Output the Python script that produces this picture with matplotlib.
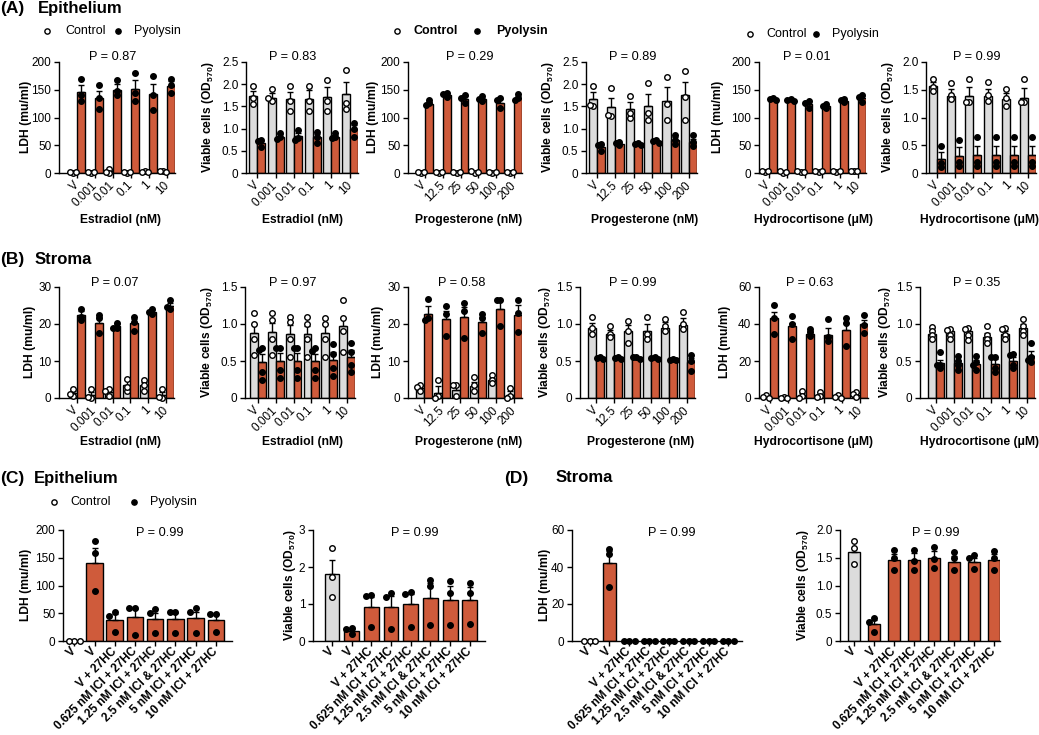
import numpy as np
import matplotlib
matplotlib.use('Agg')
import matplotlib.pyplot as plt
from matplotlib.lines import Line2D

plt.rcParams['font.family'] = ['Liberation Sans', 'DejaVu Sans']
plt.rcParams['mathtext.fontset'] = 'custom'
plt.rcParams['mathtext.rm'] = 'Liberation Sans'
plt.rcParams['mathtext.bf'] = 'Liberation Sans:bold'
plt.rcParams['mathtext.it'] = 'Liberation Sans:italic'

# ---------------- DATA ----------------
E2_LEVELS = ['V', '0.001', '0.01', '0.1', '1', '10']
P4_LEVELS = ['V', '12.5', '25', '50', '100', '200']
HC_LEVELS = ['V', '0.001', '0.01', '0.1', '1', '10']
TREAT_LABELS = ['V', 'V', 'V + 27HC', '0.625 nM ICI + 27HC', '1.25 nM ICI + 27HC',
                '2.5 nM ICI & 27HC', '5 nM ICI + 27HC', '10 nM ICI + 27HC']

P_A = ['P = 0.87', 'P = 0.83', 'P = 0.29', 'P = 0.89', 'P = 0.01', 'P = 0.99']
P_B = ['P = 0.07', 'P = 0.97', 'P = 0.58', 'P = 0.99', 'P = 0.63', 'P = 0.35']
P_CD = ['P = 0.99', 'P = 0.99', 'P = 0.99', 'P = 0.99']

# (A) Epithelium - Estradiol - LDH
A_E2_LDH_CTRL = [1.5, 1.0, 3.5, 1.0, 2.0, 3.0]
A_E2_LDH_CTRL_SEM = [0.8, 0.6, 2.2, 0.6, 0.6, 0.6]
A_E2_LDH_CTRL_PTS = [[0, 2.5, 1.5], [0, 2, 1], [8, 0.5, 2], [0, 2, 1], [3, 2, 1.5], [4, 3, 2]]
A_E2_LDH_PYO = [146, 136, 150, 151, 142, 156]
A_E2_LDH_PYO_SEM = [12, 12, 10, 17, 19, 9]
A_E2_LDH_PYO_PTS = [[170, 140, 130], [158, 135, 115], [168, 148, 140], [181, 145, 130], [175, 140, 113], [169, 158, 145]]
# (A) Epithelium - Estradiol - viability
A_E2_VIA_CTRL = [1.73, 1.68, 1.67, 1.67, 1.72, 1.78]
A_E2_VIA_CTRL_SEM = [0.12, 0.12, 0.15, 0.19, 0.21, 0.27]
A_E2_VIA_CTRL_PTS = [[1.97, 1.55, 1.70], [1.90, 1.62, 1.68], [1.95, 1.40, 1.62], [1.97, 1.40, 1.62], [2.10, 1.40, 1.62], [2.32, 1.45, 1.58]]
A_E2_VIA_PYO = [0.68, 0.82, 0.83, 0.80, 0.82, 0.98]
A_E2_VIA_PYO_SEM = [0.05, 0.05, 0.07, 0.07, 0.04, 0.09]
A_E2_VIA_PYO_PTS = [[0.75, 0.72, 0.58], [0.90, 0.80, 0.76], [0.97, 0.78, 0.75], [0.93, 0.80, 0.68], [0.90, 0.80, 0.78], [1.13, 1.00, 0.82]]
# (A) Epithelium - Progesterone - LDH
A_P4_LDH_CTRL = [1.5, 1.0, 1.5, 2.0, 1.0, 1.5]
A_P4_LDH_CTRL_SEM = [0.5, 0.5, 0.7, 1.0, 0.5, 0.6]
A_P4_LDH_CTRL_PTS = [[0.5, 2, 1.5], [0.5, 1.5, 1], [0.5, 2.5, 1.5], [0.5, 3.5, 2], [0.5, 1.5, 1], [0.5, 2.5, 1.5]]
A_P4_LDH_PYO = [125, 141, 134, 133, 127, 135]
A_P4_LDH_PYO_SEM = [3, 3, 5, 3, 6, 4]
A_P4_LDH_PYO_PTS = [[132, 126, 122], [145, 143, 137], [140, 135, 126], [138, 133, 130], [135, 132, 117], [142, 136, 132]]
# (A) Epithelium - Progesterone - viability
A_P4_VIA_CTRL = [1.67, 1.49, 1.44, 1.52, 1.63, 1.75]
A_P4_VIA_CTRL_SEM = [0.15, 0.21, 0.16, 0.26, 0.30, 0.31]
A_P4_VIA_CTRL_PTS = [[1.97, 1.52, 1.53], [1.92, 1.28, 1.30], [1.73, 1.25, 1.35], [2.03, 1.20, 1.35], [2.17, 1.20, 1.55], [2.30, 1.20, 1.72]]
A_P4_VIA_PYO = [0.58, 0.66, 0.65, 0.71, 0.75, 0.70]
A_P4_VIA_PYO_SEM = [0.05, 0.02, 0.02, 0.02, 0.06, 0.07]
A_P4_VIA_PYO_PTS = [[0.66, 0.62, 0.50], [0.70, 0.68, 0.62], [0.68, 0.66, 0.64], [0.74, 0.72, 0.68], [0.85, 0.74, 0.66], [0.85, 0.70, 0.60]]
# (A) Epithelium - Hydrocortisone - LDH
A_HC_LDH_CTRL = [3, 1.5, 2.5, 3, 3, 4]
A_HC_LDH_CTRL_SEM = [0.5, 0.8, 0.8, 0.6, 0.5, 0.5]
A_HC_LDH_CTRL_PTS = [[2, 4, 3], [0, 3, 1.5], [1, 4, 2.5], [2, 4.5, 3], [2.5, 3.5, 3], [3.5, 4.5, 4]]
A_HC_LDH_PYO = [133, 131, 125, 120, 130, 135]
A_HC_LDH_PYO_SEM = [2, 1.5, 4, 3, 2, 4]
A_HC_LDH_PYO_PTS = [[136, 134, 131], [133, 131, 130], [130, 127, 118], [125, 120, 117], [134, 131, 128], [140, 137, 128]]
# (A) Epithelium - Hydrocortisone - viability
A_HC_VIA_CTRL = [1.56, 1.39, 1.39, 1.39, 1.34, 1.36]
A_HC_VIA_CTRL_SEM = [0.08, 0.12, 0.16, 0.13, 0.10, 0.17]
A_HC_VIA_CTRL_PTS = [[1.70, 1.55, 1.47], [1.62, 1.40, 1.33], [1.70, 1.28, 1.28], [1.64, 1.40, 1.30], [1.52, 1.35, 1.20], [1.70, 1.28, 1.28]]
A_HC_VIA_PYO = [0.25, 0.30, 0.32, 0.32, 0.32, 0.32]
A_HC_VIA_PYO_SEM = [0.12, 0.16, 0.17, 0.17, 0.17, 0.17]
A_HC_VIA_PYO_PTS = [[0.48, 0.18, 0.10], [0.60, 0.20, 0.12], [0.65, 0.20, 0.12], [0.65, 0.20, 0.12], [0.65, 0.20, 0.12], [0.65, 0.20, 0.12]]

# (B) Stroma - Estradiol - LDH
B_E2_LDH_CTRL = [1.3, 0.9, 1.6, 3.4, 3.4, 0.9]
B_E2_LDH_CTRL_SEM = [0.7, 0.8, 0.9, 1.4, 1.0, 0.8]
B_E2_LDH_CTRL_PTS = [[2.5, 0.5, 1.0], [2.5, 0.0, 0.2], [2.5, 0.5, 1.8], [5.2, 2.0, 3.0], [5.0, 2.0, 3.5], [2.5, 0.0, 0.2]]
B_E2_LDH_PYO = [22.3, 20.4, 19.4, 20.2, 23.3, 24.9]
B_E2_LDH_PYO_SEM = [1.1, 1.5, 0.6, 1.2, 0.5, 0.9]
B_E2_LDH_PYO_PTS = [[24.0, 21.0, 22.0], [22.5, 17.5, 21.5], [20.3, 19.0, 19.0], [22.0, 18.0, 20.5], [24.0, 22.8, 23.2], [26.5, 24.0, 24.5]]
# (B) Stroma - Estradiol - viability
B_E2_VIA_CTRL = [0.88, 0.89, 0.87, 0.86, 0.88, 0.97]
B_E2_VIA_CTRL_SEM = [0.12, 0.13, 0.11, 0.11, 0.12, 0.11]
B_E2_VIA_CTRL_PTS = [[1.15, 0.58, 1.00, 0.80], [1.15, 0.58, 1.05, 0.80], [1.10, 0.55, 1.03, 0.80],
                     [1.10, 0.55, 1.00, 0.80], [1.08, 0.55, 1.00, 0.80], [1.32, 0.62, 1.08, 0.90]]
B_E2_VIA_PYO = [0.48, 0.50, 0.50, 0.50, 0.52, 0.55]
B_E2_VIA_PYO_SEM = [0.11, 0.11, 0.11, 0.10, 0.10, 0.10]
B_E2_VIA_PYO_PTS = [[0.67, 0.65, 0.35, 0.25], [0.68, 0.67, 0.38, 0.27], [0.68, 0.67, 0.38, 0.27],
                    [0.68, 0.64, 0.38, 0.27], [0.73, 0.60, 0.40, 0.30], [0.75, 0.62, 0.45, 0.35]]
# (B) Stroma - Progesterone - LDH
B_P4_LDH_CTRL = [2.8, 1.4, 2.2, 3.2, 4.9, 0.9]
B_P4_LDH_CTRL_SEM = [0.5, 1.9, 1.4, 1.2, 0.6, 0.9]
B_P4_LDH_CTRL_PTS = [[3.5, 3.0, 2.0], [4.8, 0.5, 0.0], [3.6, 3.5, 0.5], [5.8, 3.5, 1.8], [6.3, 5.0, 4.0], [2.8, 0.5, 0.0]]
B_P4_LDH_PYO = [22.8, 21.3, 21.8, 20.5, 24.1, 22.5]
B_P4_LDH_PYO_SEM = [2.1, 2.2, 2.7, 1.5, 2.4, 2.5]
B_P4_LDH_PYO_PTS = [[26.7, 21.5, 21.0], [24.8, 22.7, 16.7], [25.8, 23.5, 16.2], [22.7, 21.5, 17.5], [26.5, 26.5, 19.5], [26.5, 23.0, 17.8]]
# (B) Stroma - Progesterone - viability
B_P4_VIA_CTRL = [0.95, 0.87, 0.91, 0.91, 0.95, 0.99]
B_P4_VIA_CTRL_SEM = [0.07, 0.05, 0.07, 0.09, 0.08, 0.09]
B_P4_VIA_CTRL_PTS = [[1.09, 0.95, 0.87], [0.97, 0.87, 0.82], [1.04, 0.90, 0.75], [1.09, 0.87, 0.80], [1.07, 0.97, 0.90], [1.16, 1.00, 0.93]]
B_P4_VIA_PYO = [0.53, 0.53, 0.54, 0.53, 0.52, 0.48]
B_P4_VIA_PYO_SEM = [0.01, 0.01, 0.01, 0.01, 0.01, 0.06]
B_P4_VIA_PYO_PTS = [[0.56, 0.54, 0.53], [0.56, 0.54, 0.53], [0.56, 0.55, 0.53], [0.56, 0.54, 0.53], [0.53, 0.52, 0.52], [0.58, 0.50, 0.36]]
# (B) Stroma - Hydrocortisone - LDH
B_HC_LDH_CTRL = [0.8, 0.2, 1.5, 1.5, 0.6, 1.8]
B_HC_LDH_CTRL_SEM = [0.4, 0.1, 1.2, 0.8, 0.5, 0.8]
B_HC_LDH_CTRL_PTS = [[1.5, 0.5, 0.0], [0.3, 0.2, 0.2], [4.0, 1.0, 0.0], [3.2, 1.0, 0.5], [1.5, 0.3, 0.0], [3.2, 2.0, 0.3]]
B_HC_LDH_PYO = [43, 39, 34.5, 34, 37, 40]
B_HC_LDH_PYO_SEM = [3.5, 1.8, 1.5, 4, 3.5, 2]
B_HC_LDH_PYO_PTS = [[50, 43.5, 34.5], [44.5, 40, 32], [37.5, 35.5, 33.5], [42.5, 33, 31], [43, 40.5, 28], [45, 39.5, 35]]
# (B) Stroma - Hydrocortisone - viability
B_HC_VIA_CTRL = [0.87, 0.90, 0.90, 0.83, 0.87, 0.94]
B_HC_VIA_CTRL_SEM = [0.05, 0.03, 0.05, 0.05, 0.04, 0.06]
B_HC_VIA_CTRL_PTS = [[0.96, 0.90, 0.85, 0.80], [0.93, 0.92, 0.85, 0.80], [0.95, 0.93, 0.85, 0.78],
                     [0.97, 0.85, 0.80, 0.75], [0.95, 0.93, 0.85, 0.80], [1.07, 0.97, 0.90, 0.85]]
B_HC_VIA_PYO = [0.47, 0.47, 0.46, 0.46, 0.50, 0.57]
B_HC_VIA_PYO_SEM = [0.04, 0.05, 0.06, 0.07, 0.06, 0.06]
B_HC_VIA_PYO_PTS = [[0.62, 0.45, 0.45, 0.40], [0.57, 0.50, 0.45, 0.38], [0.57, 0.48, 0.45, 0.38],
                    [0.56, 0.55, 0.40, 0.35], [0.60, 0.58, 0.45, 0.40], [0.75, 0.55, 0.52, 0.48]]

# (C) Epithelium - 27HC / ICI
C_LDH_MEAN = [0, 140, 38, 43, 40, 39, 41, 38]
C_LDH_SEM = [0, 27, 11, 15, 11, 12, 12, 11]
C_LDH_PTS = [[0, 0, 0], [181, 158, 90], [53, 45, 17], [60, 60, 10], [58, 50, 14], [52, 52, 15], [59, 52, 15], [49, 49, 17]]
C_VIA_MEAN = [1.80, 0.28, 0.92, 0.92, 0.99, 1.17, 1.12, 1.10]
C_VIA_SEM = [0.40, 0.05, 0.28, 0.30, 0.28, 0.41, 0.36, 0.35]
C_VIA_PTS = [[2.52, 1.72, 1.18], [0.35, 0.33, 0.18], [1.23, 1.22, 0.38], [1.30, 1.20, 0.32],
             [1.33, 1.27, 0.38], [1.65, 1.50, 0.42], [1.63, 1.30, 0.43], [1.57, 1.30, 0.45]]
# (D) Stroma - 27HC / ICI
D_LDH_MEAN = [0, 42, 0, 0, 0, 0, 0, 0]
D_LDH_SEM = [0, 6.5, 0, 0, 0, 0, 0, 0]
D_LDH_PTS = [[0, 0, 0], [50, 47, 29], [0, 0, 0], [0, 0, 0], [0, 0, 0], [0, 0, 0], [0, 0, 0], [0, 0, 0]]
D_VIA_MEAN = [1.60, 0.30, 1.46, 1.46, 1.49, 1.43, 1.43, 1.46]
D_VIA_SEM = [0.07, 0.07, 0.10, 0.12, 0.14, 0.10, 0.06, 0.10]
D_VIA_PTS = [[1.80, 1.68, 1.38], [0.42, 0.35, 0.17], [1.64, 1.50, 1.28], [1.64, 1.45, 1.28],
             [1.70, 1.48, 1.31], [1.60, 1.50, 1.28], [1.55, 1.50, 1.30], [1.62, 1.50, 1.28]]

# ---------------- STYLE / LAYOUT ----------------
W, H = 1039, 735
fig = plt.figure(figsize=(W / 100, H / 100), dpi=100)
fig.patch.set_facecolor('white')

ORANGE = '#CF5B3B'
GREY = '#DCDCDC'
LW = 1.0
MS = 4.0
TICK_FS = 8.5
LAB_FS = 8.7
P_FS = 9.2
LEG_FS = 9.0
CD_TICK_FS = 8.5


def fx(px):
    return px / W


def fy(py):
    return 1 - py / H


def make_ax(x0, x1, y0, y1):
    ax = fig.add_axes([fx(x0), fy(y1), (x1 - x0) / W, (y1 - y0) / H])
    for s in ('top', 'right'):
        ax.spines[s].set_visible(False)
    for s in ('left', 'bottom'):
        ax.spines[s].set_linewidth(LW)
    ax.tick_params(axis='both', direction='out', length=3.5, width=LW, labelsize=TICK_FS, pad=2)
    ax.set_facecolor('none')
    return ax


def swarm(xc, vals, ymax, h_px, ppu, diam=4.0):
    placed, xs = [], []
    for v in vals:
        vy = v / ymax * h_px
        dx = 0
        for c in (0, -1, 1, -2, 2):
            dx = c * diam
            if all((dx - px) ** 2 + (vy - py) ** 2 >= diam ** 2 for px, py in placed):
                break
        placed.append((dx, vy))
        xs.append(xc + dx / ppu)
    return xs


def draw_points(ax, xc, pts, filled, ymax, h_px, ppu, diam=4.0):
    xs = swarm(xc, pts, ymax, h_px, ppu, diam)
    ax.plot(xs, pts, linestyle='none', marker='o', ms=MS,
            mfc='black' if filled else 'white', mec='black', mew=1.0,
            zorder=5, clip_on=False)


def draw_err(ax, x, mean, sem):
    if sem > 0:
        ax.errorbar([x], [mean], yerr=[[0], [sem]], fmt='none', ecolor='black',
                    elinewidth=LW, capsize=2.3, capthick=LW, zorder=4)


def grouped(geom, y0, y1, ymax, yticks, ytl, levels, cm, cs, cp, pm, ps, pp):
    x0, fb, x1 = geom
    bw = 0.44
    n = len(levels)
    ppu = (x1 - fb) / ((n - 1) + 2 * bw)
    left = -bw - (fb - x0) / ppu
    ax = make_ax(x0, x1, y0, y1)
    ax.set_xlim(left, (n - 1) + bw)
    ax.set_ylim(0, ymax)
    idx = np.arange(n)
    ax.bar(idx - bw / 2, cm, bw, color=GREY, edgecolor='black', linewidth=LW, zorder=2)
    ax.bar(idx + bw / 2, pm, bw, color=ORANGE, edgecolor='black', linewidth=LW, zorder=2)
    h_px = y1 - y0
    for i in range(n):
        draw_err(ax, i - bw / 2, cm[i], cs[i])
        draw_err(ax, i + bw / 2, pm[i], ps[i])
        draw_points(ax, i - bw / 2, cp[i], False, ymax, h_px, ppu, 3.2)
        draw_points(ax, i + bw / 2, pp[i], True, ymax, h_px, ppu, 3.2)
    ax.set_yticks(yticks)
    ax.set_yticklabels(ytl)
    ax.set_xticks(idx)
    ax.set_xticklabels(levels, rotation=45, ha='right', va='center',
                       rotation_mode='anchor', fontsize=TICK_FS)
    ax.tick_params(axis='x', pad=4)
    return ax


def single(x0, x1, y0, y1, xlim, bw, ymax, yticks, ytl, means, sems, pts):
    ax = make_ax(x0, x1, y0, y1)
    ax.set_xlim(*xlim)
    ax.set_ylim(0, ymax)
    n = len(means)
    idx = np.arange(n)
    colors = [GREY] + [ORANGE] * (n - 1)
    ax.bar(idx, means, bw, color=colors, edgecolor='black', linewidth=LW, zorder=2)
    ppu = (x1 - x0) / (xlim[1] - xlim[0])
    for i in range(n):
        draw_err(ax, i, means[i], sems[i])
        draw_points(ax, i, pts[i], i > 0, ymax, y1 - y0, ppu, 5.5)
    ax.set_yticks(yticks)
    ax.set_yticklabels(ytl)
    ax.set_xticks(idx)
    ax.set_xticklabels(TREAT_LABELS, rotation=45, ha='right', va='center',
                       rotation_mode='anchor', fontsize=CD_TICK_FS, fontweight='bold')
    ax.tick_params(axis='x', pad=2.5)
    return ax


LDH200 = ([0, 50, 100, 150, 200], ['0', '50', '100', '150', '200'])
VIA25 = ([0, 0.5, 1.0, 1.5, 2.0, 2.5], ['0', '0.5', '1.0', '1.5', '2.0', '2.5'])
VIA20 = ([0, 0.5, 1.0, 1.5, 2.0], ['0', '0.5', '1.0', '1.5', '2.0'])
VIA15 = ([0, 0.5, 1.0, 1.5], ['0', '0.5', '1.0', '1.5'])
LDH30 = ([0, 10, 20, 30], ['0', '10', '20', '30'])
LDH60 = ([0, 20, 40, 60], ['0', '20', '40', '60'])
VIA3 = ([0, 1, 2, 3], ['0', '1', '2', '3'])

LDH_LABEL = 'LDH (mu/ml)'
VIA_LABEL = r'Viable cells (OD$_{\mathbf{570}}$)'

# ---- Row A ----
A_GEOM = [(59, 69, 175), (246, 249, 358), (408, 417, 522), (586, 589, 697), (759, 761, 866), (926, 929, 1036)]
A_SPECS = [
    (200, LDH200, E2_LEVELS, A_E2_LDH_CTRL, A_E2_LDH_CTRL_SEM, A_E2_LDH_CTRL_PTS, A_E2_LDH_PYO, A_E2_LDH_PYO_SEM, A_E2_LDH_PYO_PTS),
    (2.5, VIA25, E2_LEVELS, A_E2_VIA_CTRL, A_E2_VIA_CTRL_SEM, A_E2_VIA_CTRL_PTS, A_E2_VIA_PYO, A_E2_VIA_PYO_SEM, A_E2_VIA_PYO_PTS),
    (200, LDH200, P4_LEVELS, A_P4_LDH_CTRL, A_P4_LDH_CTRL_SEM, A_P4_LDH_CTRL_PTS, A_P4_LDH_PYO, A_P4_LDH_PYO_SEM, A_P4_LDH_PYO_PTS),
    (2.5, VIA25, P4_LEVELS, A_P4_VIA_CTRL, A_P4_VIA_CTRL_SEM, A_P4_VIA_CTRL_PTS, A_P4_VIA_PYO, A_P4_VIA_PYO_SEM, A_P4_VIA_PYO_PTS),
    (200, LDH200, HC_LEVELS, A_HC_LDH_CTRL, A_HC_LDH_CTRL_SEM, A_HC_LDH_CTRL_PTS, A_HC_LDH_PYO, A_HC_LDH_PYO_SEM, A_HC_LDH_PYO_PTS),
    (2.0, VIA20, HC_LEVELS, A_HC_VIA_CTRL, A_HC_VIA_CTRL_SEM, A_HC_VIA_CTRL_PTS, A_HC_VIA_PYO, A_HC_VIA_PYO_SEM, A_HC_VIA_PYO_PTS),
]
for g, s in zip(A_GEOM, A_SPECS):
    ymax, (yt, ytl), lev, cm, cs, cp, pm, ps, pp = s
    grouped(g, 62, 173, ymax, yt, ytl, lev, cm, cs, cp, pm, ps, pp)

# ---- Row B ----
B_GEOM = [(59, 69, 174), (245, 250, 355), (408, 416, 522), (580, 588, 695), (759, 762, 868), (920, 928, 1035)]
B_SPECS = [
    (30, LDH30, E2_LEVELS, B_E2_LDH_CTRL, B_E2_LDH_CTRL_SEM, B_E2_LDH_CTRL_PTS, B_E2_LDH_PYO, B_E2_LDH_PYO_SEM, B_E2_LDH_PYO_PTS),
    (1.5, VIA15, E2_LEVELS, B_E2_VIA_CTRL, B_E2_VIA_CTRL_SEM, B_E2_VIA_CTRL_PTS, B_E2_VIA_PYO, B_E2_VIA_PYO_SEM, B_E2_VIA_PYO_PTS),
    (30, LDH30, P4_LEVELS, B_P4_LDH_CTRL, B_P4_LDH_CTRL_SEM, B_P4_LDH_CTRL_PTS, B_P4_LDH_PYO, B_P4_LDH_PYO_SEM, B_P4_LDH_PYO_PTS),
    (1.5, VIA15, P4_LEVELS, B_P4_VIA_CTRL, B_P4_VIA_CTRL_SEM, B_P4_VIA_CTRL_PTS, B_P4_VIA_PYO, B_P4_VIA_PYO_SEM, B_P4_VIA_PYO_PTS),
    (60, LDH60, HC_LEVELS, B_HC_LDH_CTRL, B_HC_LDH_CTRL_SEM, B_HC_LDH_CTRL_PTS, B_HC_LDH_PYO, B_HC_LDH_PYO_SEM, B_HC_LDH_PYO_PTS),
    (1.5, VIA15, HC_LEVELS, B_HC_VIA_CTRL, B_HC_VIA_CTRL_SEM, B_HC_VIA_CTRL_PTS, B_HC_VIA_PYO, B_HC_VIA_PYO_SEM, B_HC_VIA_PYO_PTS),
]
for g, s in zip(B_GEOM, B_SPECS):
    ymax, (yt, ytl), lev, cm, cs, cp, pm, ps, pp = s
    grouped(g, 287, 398, ymax, yt, ytl, lev, cm, cs, cp, pm, ps, pp)

# ---- Rows C / D ----
single(63, 232, 530, 641, (-0.56, 7.8), 0.82, 200, LDH200[0], LDH200[1], C_LDH_MEAN, C_LDH_SEM, C_LDH_PTS)
single(313, 485, 530, 641, (-0.96, 7.77), 0.75, 3, VIA3[0], VIA3[1], C_VIA_MEAN, C_VIA_SEM, C_VIA_PTS)
single(572, 742, 530, 641, (-0.89, 7.69), 0.65, 60, LDH60[0], LDH60[1], D_LDH_MEAN, D_LDH_SEM, D_LDH_PTS)
single(840, 1000, 530, 641, (-0.7, 7.3), 0.62, 2.0, VIA20[0], VIA20[1], D_VIA_MEAN, D_VIA_SEM, D_VIA_PTS)

# ---------------- TEXT ----------------
def ptxt(x, y, s, **kw):
    fig.text(fx(x), fy(y), s, **kw)


# panel letters and titles
for lab, tit, x_l, x_t, y in [('(A)', 'Epithelium', 0, 38, 8), ('(B)', 'Stroma', 0, 35, 259),
                              ('(C)', 'Epithelium', 0, 34, 478), ('(D)', 'Stroma', 504, 556, 478)]:
    ptxt(x_l, y, lab, fontsize=12.5, fontweight='bold', ha='left', va='center')
    ptxt(x_t, y, tit, fontsize=12, fontweight='bold', ha='left', va='center')

# legends
def legend(xc, xct, xd, xpt, y, bold):
    fw = 'bold' if bold else 'normal'
    fig.add_artist(Line2D([fx(xc)], [fy(y)], marker='o', ms=3.8, mfc='white', mec='black',
                          mew=1.0, linestyle='none', transform=fig.transFigure))
    fig.add_artist(Line2D([fx(xd)], [fy(y)], marker='o', ms=3.8, mfc='black', mec='black',
                          mew=1.0, linestyle='none', transform=fig.transFigure))
    ptxt(xct, y, 'Control', fontsize=LEG_FS, fontweight=fw, ha='left', va='center')
    ptxt(xpt, y, 'Pyolysin', fontsize=LEG_FS, fontweight=fw, ha='left', va='center')


legend(47, 65, 118, 134, 31, False)
legend(397, 414, 477, 496, 31, True)
legend(750, 766, 816, 832, 34, False)
legend(54, 70, 134, 150, 502, False)

# P values
for x, s in zip([113, 293, 470, 633, 807, 977], P_A):
    ptxt(x, 57, s, fontsize=P_FS, ha='center', va='center')
for x, s in zip([115, 293, 462, 633, 810, 977], P_B):
    ptxt(x, 283, s, fontsize=P_FS, ha='center', va='center')
for x, s in zip([160, 415, 672, 936], P_CD):
    ptxt(x, 533, s, fontsize=P_FS, ha='center', va='center')

# y labels
YL = [LDH_LABEL, VIA_LABEL] * 3
for x, s in zip([26, 208, 373, 548, 718, 888], YL):
    ptxt(x, 117, s, fontsize=LAB_FS, fontweight='bold', rotation=90, ha='center', va='center')
for x, s in zip([30, 207, 378, 545, 725, 885], YL):
    ptxt(x, 342, s, fontsize=LAB_FS, fontweight='bold', rotation=90, ha='center', va='center')
for x, s in zip([26, 290, 545, 803], [LDH_LABEL, VIA_LABEL, LDH_LABEL, VIA_LABEL]):
    ptxt(x, 585, s, fontsize=LAB_FS, fontweight='bold', rotation=90, ha='center', va='center')

# x labels
XL = ['Estradiol (nM)', 'Estradiol (nM)', 'Progesterone (nM)', 'Progesterone (nM)',
      'Hydrocortisone (\u03bcM)', 'Hydrocortisone (\u03bcM)']
for x, s in zip([121, 302, 469, 645, 813, 979], XL):
    ptxt(x, 220, s, fontsize=LAB_FS, fontweight='bold', ha='center', va='center')
for x, s in zip([121, 302, 469, 641, 813, 979], XL):
    ptxt(x, 442, s, fontsize=LAB_FS, fontweight='bold', ha='center', va='center')

fig.savefig('out.png', dpi=100, facecolor='white')
